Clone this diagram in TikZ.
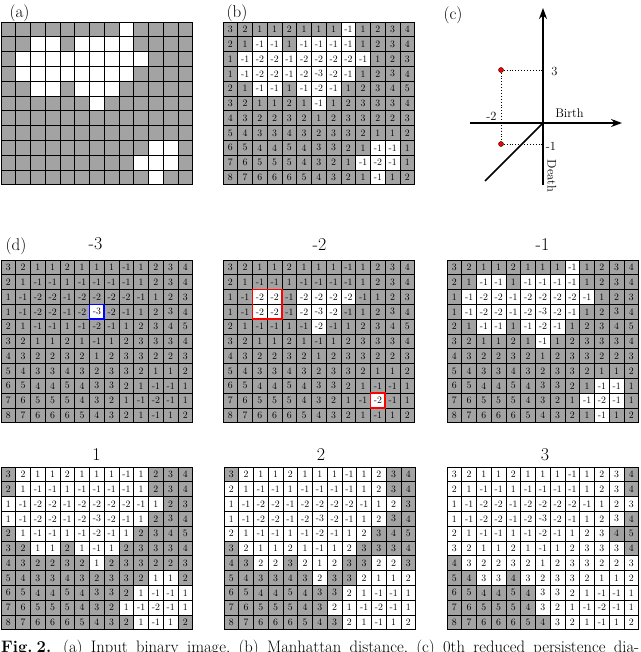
\documentclass[tikz,border=0pt]{standalone}
\usetikzlibrary{arrows.meta}
\definecolor{cellgray}{RGB}{163,163,163}
\begin{document}
\begin{tikzpicture}[x=1pt,y=-1pt,
  cell/.style={draw=black, line width=0.9pt, minimum width=14.75pt, minimum height=14.8pt,
    inner sep=0pt, outer sep=0pt, font=\fontsize{9.8}{10}\selectfont},
  ttl/.style={font=\fontsize{18}{20}\selectfont, inner sep=0pt},
  plabel/.style={font=\fontsize{17}{20}\selectfont, inner sep=0pt},
  axlbl/.style={font=\fontsize{12.5}{14}\selectfont, inner sep=0pt},
  axis/.style={line width=1.6pt, -{Stealth[length=11pt,width=8pt]}},
  dots/.style={line width=0.9pt, dotted},
  pt/.style={circle, fill=red, draw=black, line width=0.4pt, minimum size=5pt, inner sep=0pt},
  hl/.style={line width=1.6pt}]
\useasboundingbox (0,0) rectangle (640,652);
\clip (0,0) rectangle (640,652);
\def\cw{14.75}\def\ch{14.8}
\def\matrixdata{{3,2,1,1,2,1,1,1,-1,1,2,3,4},{2,1,-1,-1,1,-1,-1,-1,-1,1,2,3,4},{1,-1,-2,-2,-1,-2,-2,-2,-2,-1,1,2,3},{1,-1,-2,-2,-1,-2,-3,-2,-1,1,2,3,4},{2,1,-1,-1,1,-1,-2,-1,1,2,3,4,5},{3,2,1,1,2,1,-1,1,2,3,3,3,4},{4,3,2,2,3,2,1,2,3,3,2,2,3},{5,4,3,3,4,3,2,3,3,2,1,1,2},{6,5,4,4,5,4,3,3,2,1,-1,-1,1},{7,6,5,5,5,4,3,2,1,-1,-2,-1,1},{8,7,6,6,6,5,4,3,2,1,-1,1,2}}
\expandafter\def\csname wxgpa-1-2\endcsname{}
\expandafter\def\csname wxgpa-1-5\endcsname{}
\newcommand\mygrid[5]{%
  \foreach \row [count=\i] in \matrixdata {
    \foreach \v [count=\j] in \row {
      \ifnum\v>#4\relax \def\cellfill{cellgray}\else\def\cellfill{white}\fi
      \ifcsname wx#1-\i-\j\endcsname \def\cellfill{white}\fi
      \node[cell, fill=\cellfill] (#1-\i-\j) at ({#2+(\j-0.5)*\cw},{#3+(\i-0.5)*\ch}) {#5};
    }
  }%
}
% (a)
\node[plabel] (la) at (19.5,13) {(a)};
\mygrid{ga}{1}{22}{0}{}
% (b)
\node[plabel] (lb) at (237,13) {(b)};
\mygrid{gb}{223}{22}{0}{\v}
% (c)
\node[plabel] (lc) at (453,15) {(c)};
\coordinate (O) at (543,123);
\coordinate (vb) at (543,185);
\coordinate (vt) at (543,8);
\coordinate (hl) at (470,123);
\coordinate (hr) at (622,123);
\coordinate (dg) at (485,181);
\coordinate (a3) at (543,70);
\coordinate (a1) at (543,144);
\draw[axis] (vb) -- (vt);
\draw[axis] (hl) -- (hr);
\draw[line width=1.6pt] (O) -- (dg);
\node[pt] (p1) at (501,70) {};
\node[pt] (p2) at (501,144) {};
\draw[dots] (p1) -- (a3);
\draw[dots] (p2) -- (a1);
\draw[dots] (p1) -- (p2);
\node[axlbl] (t3) at (554.5,71) {3};
\node[axlbl] (tm1) at (551,146) {-1};
\node[axlbl] (tm2) at (491.5,116) {-2};
\node[axlbl] (tb) at (569.5,113) {Birth};
\node[axlbl, rotate=-90] (td) at (552,176) {Death};
% (d)
\node[plabel] (ld) at (16,246) {(d)};
\node[ttl] (tt1) at (95.5,244) {-3};
\mygrid{gma}{1}{260}{-3}{\v}
\node[ttl] (tt2) at (319.5,245) {-2};
\mygrid{gmb}{223}{260}{-2}{\v}
\node[ttl] (tt3) at (542.5,245) {-1};
\mygrid{gmc}{447}{260}{-1}{\v}
\node[ttl] (tt4) at (96.5,455) {1};
\mygrid{gpa}{1}{467}{1}{\v}
\node[ttl] (tt5) at (321,455) {2};
\mygrid{gpb}{224}{467}{2}{\v}
\node[ttl] (tt6) at (545,455) {3};
\mygrid{gpc}{447}{467}{3}{\v}
% highlights
\draw[hl, blue] (gma-4-7.north west) rectangle (gma-4-7.south east);
\draw[hl, red] (gmb-3-3.north west) rectangle (gmb-4-4.south east);
\draw[hl, red] (gmb-10-11.north west) rectangle (gmb-10-11.south east);
% caption
\node[anchor=base west, inner sep=0pt] (cap) at (1,652.5)
  {\fontsize{16.6}{18}\selectfont\frenchspacing\hbox to 638pt{\textbf{Fig.\kern4pt2.}\kern12pt(a) Input binary image, (b) Manhattan distance, (c) 0th reduced persistence dia-}};
\end{tikzpicture}
\end{document}
